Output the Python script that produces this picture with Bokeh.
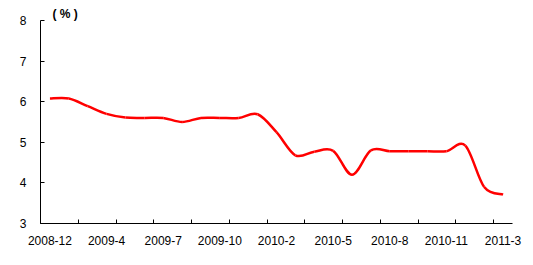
from bokeh.plotting import figure
from bokeh.models import FixedTicker, Range1d
from bokeh.embed import file_html
from bokeh.resources import INLINE

# Data
labels = ["2008-12", "2009-4", "2009-7", "2009-10", "2010-2",
          "2010-5", "2010-8", "2010-11", "2011-3"]
label_idx = [0, 3, 6, 9, 12, 15, 18, 21, 24]
values = [6.08, 6.08, 5.89, 5.70, 5.61, 5.60, 5.60, 5.50, 5.60, 5.60,
          5.60, 5.69, 5.25, 4.68, 4.77, 4.79, 4.20, 4.80, 4.78, 4.78,
          4.78, 4.78, 4.92, 3.90, 3.71]
y_ticks = [3, 4, 5, 6, 7, 8]

n = len(values)
xs = list(range(n))

p = figure(width=533, height=265, output_backend="svg", toolbar_location=None,
           x_range=Range1d(-0.5, n - 0.5), y_range=Range1d(3, 8),
           min_border_left=40, min_border_right=21, min_border_top=20,
           min_border_bottom=42)
p.outline_line_color = None
p.xgrid.visible = False
p.ygrid.visible = False
p.background_fill_color = "white"
p.border_fill_color = "white"

# smoothed line (Excel-style smoothing via cubic Bezier segments)
x0, y0, x1, y1, cx0, cy0, cx1, cy1 = [], [], [], [], [], [], [], []
for i in range(n - 1):
    pm = values[i - 1] if i > 0 else values[i]
    xm = xs[i - 1] if i > 0 else xs[i]
    pp = values[i + 2] if i + 2 < n else values[i + 1]
    xp = xs[i + 2] if i + 2 < n else xs[i + 1]
    x0.append(xs[i]); y0.append(values[i])
    x1.append(xs[i + 1]); y1.append(values[i + 1])
    cx0.append(xs[i] + (xs[i + 1] - xm) / 6.0)
    cy0.append(values[i] + (values[i + 1] - pm) / 6.0)
    cx1.append(xs[i + 1] - (xp - xs[i]) / 6.0)
    cy1.append(values[i + 1] - (pp - values[i]) / 6.0)
p.bezier(x0=x0, y0=y0, x1=x1, y1=y1, cx0=cx0, cy0=cy0, cx1=cx1, cy1=cy1,
         line_color="#FF0000", line_width=2.5)

font = "Liberation Sans"
# x axis
minor = [-0.5 + 2 * k for k in range(13)]
p.xaxis.ticker = FixedTicker(ticks=label_idx, minor_ticks=minor)
p.xaxis.major_label_overrides = {i: l for i, l in zip(label_idx, labels)}
p.xaxis.major_tick_in = 0
p.xaxis.major_tick_out = 0
p.xaxis.minor_tick_in = 4
p.xaxis.minor_tick_out = 0
p.xaxis.minor_tick_line_color = "black"
p.xaxis.major_label_standoff = 12
# y axis
p.yaxis.ticker = FixedTicker(ticks=y_ticks, minor_ticks=[])
p.yaxis.major_tick_in = 4
p.yaxis.major_tick_out = 0
p.yaxis.major_label_standoff = 14
for ax in (p.xaxis, p.yaxis):
    ax.axis_line_color = "black"
    ax.axis_line_width = 1
    ax.major_tick_line_color = "black"
    ax.major_label_text_font = font
    ax.major_label_text_font_size = "12px"
    ax.major_label_text_color = "black"

p.title.text = "( % )"
p.title.align = "left"
p.title.offset = 12
p.title.standoff = 0
p.title.text_font = font
p.title.text_font_size = "12px"
p.title.text_font_style = "bold"
p.title.text_color = "black"

open("out.html", "w").write(file_html(p, INLINE))
